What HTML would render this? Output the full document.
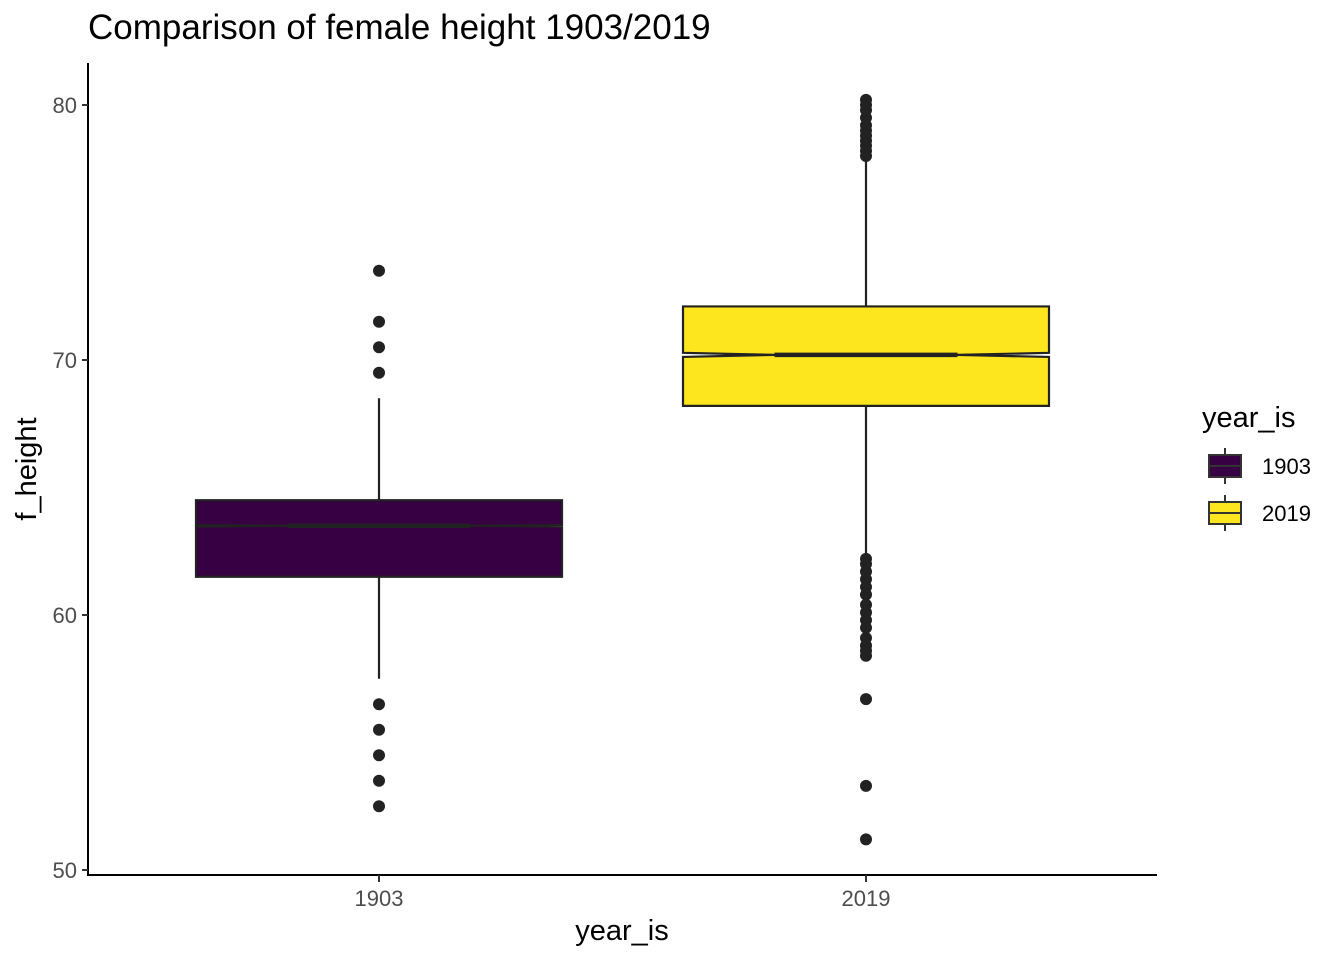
<!DOCTYPE html>
<html><head><meta charset="utf-8"><style>
body{margin:0;background:#fff;}
svg text{font-family:"Liberation Sans",Arial,sans-serif;}
</style></head><body>
<svg id="chart" width="1344" height="960" viewBox="0 0 1344 960" xmlns="http://www.w3.org/2000/svg">
<text x="88" y="39" font-size="35" fill="#000">Comparison of female height 1903/2019</text>
<g id="plot"></g>
<line x1="88" y1="63" x2="88" y2="876" stroke="#000" stroke-width="2"/>
<line x1="87" y1="875" x2="1157" y2="875" stroke="#000" stroke-width="2"/>
<text transform="translate(36,469) rotate(-90)" text-anchor="middle" font-size="29">f_height</text>
<text x="622" y="940" text-anchor="middle" font-size="29">year_is</text>
<g>
<text x="1202" y="427" font-size="29">year_is</text>
</g>
</svg>
<script>
const categories = ["1903", "2019"];
const q1 = [61.5, 68.2];
const medians = [63.5, 70.2];
const q3 = [64.5, 72.1];
const whiskerLow = [57.5, 62.2];
const whiskerHigh = [68.5, 78.0];
const notchHalf = [0.03, 0.08];
const colors = ["#360043", "#FDE61E"];
const outliers1903 = [73.5, 71.5, 70.5, 69.5, 56.5, 55.5, 54.5, 53.5, 52.5];
const outliers2019 = [80.2, 80.0, 79.8, 79.5, 79.2, 79.0, 78.8, 78.6, 78.4, 78.2, 78.0, 62.2, 62.0, 61.7, 61.4, 61.1, 60.8, 60.4, 60.1, 59.8, 59.5, 59.1, 58.8, 58.6, 58.4, 56.7, 53.3, 51.2];
const outliers = [outliers1903, outliers2019];
const yTicks = [50, 60, 70, 80];

const NS = "http://www.w3.org/2000/svg";
const svg = document.getElementById("chart");
const plot = document.getElementById("plot");
const y = v => 870 - (v - 50) * 25.5;
const x = i => 379 + i * 487;
const halfW = 183;
function mk(tag, attrs, parent) {
  const e = document.createElementNS(NS, tag);
  for (const k in attrs) e.setAttribute(k, attrs[k]);
  (parent || plot).appendChild(e);
  return e;
}
yTicks.forEach(t => {
  const l = mk("line", {x1: 82, x2: 88, y1: y(t), y2: y(t), stroke: "#333", "stroke-width": 2}, svg);
  
  
  const tx = mk("text", {x: 77, y: y(t) + 8, "text-anchor": "end", "font-size": 22, fill: "#4d4d4d"}, svg);
  tx.textContent = t;
  
  
});
categories.forEach((c, i) => {
  const cx = x(i);
  const l = mk("line", {x1: cx, x2: cx, y1: 875, y2: 882, stroke: "#333", "stroke-width": 2}, svg);
  
  
  const tx = mk("text", {x: cx, y: 906, "text-anchor": "middle", "font-size": 22, fill: "#4d4d4d"}, svg);
  tx.textContent = c;
  
  

  const g = mk("g", {});
  
  
  mk("line", {x1: cx, x2: cx, y1: y(whiskerHigh[i]), y2: y(q3[i]), stroke: "#222", "stroke-width": 2.2}, g);
  mk("line", {x1: cx, x2: cx, y1: y(q1[i]), y2: y(whiskerLow[i]), stroke: "#222", "stroke-width": 2.2}, g);
  const l0 = cx - halfW, r0 = cx + halfW, nl = cx - halfW / 2, nr = cx + halfW / 2;
  const d = `M${l0},${y(q3[i])} L${r0},${y(q3[i])} L${r0},${y(medians[i] + notchHalf[i])} L${nr},${y(medians[i])} L${r0},${y(medians[i] - notchHalf[i])} L${r0},${y(q1[i])} L${l0},${y(q1[i])} L${l0},${y(medians[i] - notchHalf[i])} L${nl},${y(medians[i])} L${l0},${y(medians[i] + notchHalf[i])} Z`;
  mk("path", {d: d, fill: colors[i], stroke: "#222", "stroke-width": 2.2}, g);
  mk("line", {x1: nl, x2: nr, y1: y(medians[i]), y2: y(medians[i]), stroke: "#222", "stroke-width": 4.5}, g);
  outliers[i].forEach(v => {
    const p = mk("circle", {cx: cx, cy: y(v), r: 6, fill: "#222"}, g);
    
    
  });

  const ly = 466 + i * 47;
  const lg = mk("g", {}, svg);
  
  
  mk("line", {x1: 1225, x2: 1225, y1: ly - 18, y2: ly + 18, stroke: "#333", "stroke-width": 2}, lg);
  mk("rect", {x: 1209, y: ly - 11, width: 32, height: 22, fill: colors[i], stroke: "#333", "stroke-width": 2}, lg);
  mk("line", {x1: 1209, x2: 1241, y1: ly, y2: ly, stroke: "#333", "stroke-width": 2}, lg);
  const lt = mk("text", {x: 1262, y: ly + 8, "font-size": 22}, lg);
  lt.textContent = c;
});
</script>
</body></html>
